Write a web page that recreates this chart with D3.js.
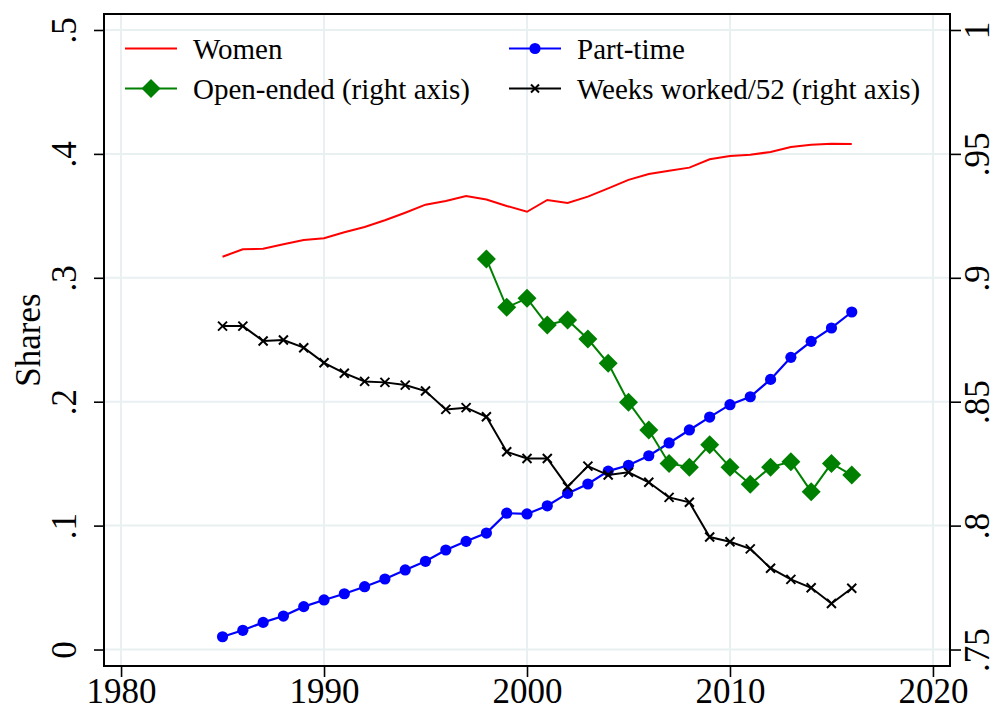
<!DOCTYPE html>
<html>
<head>
<meta charset="utf-8">
<script src="https://cdn.jsdelivr.net/npm/d3@7"></script>
<style>
  html, body { margin: 0; padding: 0; background: #fff; }
  svg { display: block; }
</style>
</head>
<body>
<div id="chart"></div>
<script>
// ---- Data ----
const years = d3.range(1985, 2017);
const women = [0.317, 0.323, 0.3235, 0.327, 0.3305, 0.332, 0.3367, 0.341, 0.3464, 0.3525, 0.359, 0.362, 0.366, 0.3632,
  0.358, 0.3533, 0.3628, 0.3604, 0.3655, 0.3722, 0.379, 0.3838, 0.3864, 0.3889, 0.3956, 0.3983, 0.3994, 0.4015, 0.4056, 0.4074, 0.4082, 0.408];
const partTime = [0.0103, 0.0155, 0.0219, 0.027, 0.0346, 0.040, 0.045, 0.0507, 0.0569, 0.0642, 0.0712, 0.0803, 0.0873, 0.094,
  0.110, 0.1094, 0.116, 0.126, 0.1336, 0.144, 0.1487, 0.1564, 0.1667, 0.1772, 0.1876, 0.1976, 0.204, 0.218, 0.2358, 0.2487, 0.2595, 0.2724];
const openYears = d3.range(1998, 2017);
const openEnded = [0.9076, 0.8881, 0.8917, 0.8810, 0.8830, 0.8753, 0.8655, 0.8498, 0.8386, 0.8251, 0.8236, 0.8326, 0.8236,
  0.8167, 0.8236, 0.8258, 0.8137, 0.8251, 0.8204];
const weeksWorked = [0.8805, 0.8805, 0.8745, 0.8749, 0.8718, 0.8657, 0.8615, 0.8582, 0.8578, 0.8567, 0.8543, 0.8469, 0.8476, 0.8439,
  0.8298, 0.8271, 0.8271, 0.8157, 0.8240, 0.8204, 0.8215, 0.8175, 0.8114, 0.8094, 0.7954, 0.7935, 0.7906, 0.7828, 0.7783, 0.7749, 0.7686, 0.7747];
const xTicks = [1980, 1990, 2000, 2010, 2020];
const yLeftTicks = [0, 0.1, 0.2, 0.3, 0.4, 0.5];
const yLeftLabels = ["0", ".1", ".2", ".3", ".4", ".5"];
const yRightTicks = [0.75, 0.8, 0.85, 0.9, 0.95, 1];
const yRightLabels = [".75", ".8", ".85", ".9", ".95", "1"];
const yTitle = "Shares";
const legendItems = [
  {label: "Women", color: "#ff0000", marker: "none", col: 0, row: 0},
  {label: "Part-time", color: "#0000ff", marker: "circle", col: 1, row: 0},
  {label: "Open-ended (right axis)", color: "#008000", marker: "diamond", col: 0, row: 1},
  {label: "Weeks worked/52 (right axis)", color: "#000000", marker: "x", col: 1, row: 1}
];

// ---- Font detection (prefer an installed Times-like serif) ----
function pickFont() {
  const cands = ["Liberation Serif", "Times New Roman", "Tinos", "Nimbus Roman", "FreeSerif", "Noto Serif", "DejaVu Serif"];
  const c = document.createElement("canvas").getContext("2d");
  const s = "Weeks worked/52 (right axis) 1980 .95";
  const base = {};
  ["monospace", "sans-serif"].forEach(b => { c.font = `40px ${b}`; base[b] = c.measureText(s).width; });
  for (const f of cands) {
    let ok = false;
    for (const b of ["monospace", "sans-serif"]) {
      c.font = `40px "${f}", ${b}`;
      if (Math.abs(c.measureText(s).width - base[b]) > 0.5) ok = true;
    }
    if (ok) return {family: `"${f}", serif`, serif: true};
  }
  return {family: `"Liberation Sans", Arial, sans-serif`, serif: false};
}
const F = pickFont();
const FONT = F.family;
const fsTick = F.serif ? 35 : 33;
const fsLegend = F.serif ? 29 : 28;
const fsTitle = F.serif ? 35 : 32;

// ---- Layout ----
const W = 997, H = 711;
const L = 104, R = 950, T = 14, B = 666;

const svg = d3.select("#chart").append("svg").attr("width", W).attr("height", H)
  .style("font-family", FONT);

const x = d3.scaleLinear().domain([1979.16, 2020.84]).range([L, R]);
const yL = d3.scaleLinear().domain([-0.0133, 0.5129]).range([B, T]);
const yR = d3.scaleLinear().domain([0.75 - 0.00665, 0.75 + 0.5129 / 2]).range([B, T]);

// grid
const gridColor = "#e8f0f2";
svg.append("g").selectAll("line.h").data(yLeftTicks).join("line")
  .attr("x1", L).attr("x2", R).attr("y1", d => yL(d)).attr("y2", d => yL(d))
  .attr("stroke", gridColor).attr("stroke-width", 2);
svg.append("g").selectAll("line.v").data(xTicks).join("line")
  .attr("y1", T).attr("y2", B).attr("x1", d => x(d)).attr("x2", d => x(d))
  .attr("stroke", gridColor).attr("stroke-width", 2);

// axes
const axL = d3.axisLeft(yL).tickValues(yLeftTicks).tickSize(10).tickFormat((d, i) => yLeftLabels[i]);
const gL = svg.append("g").attr("transform", `translate(${L},0)`).call(axL);
const axR = d3.axisRight(yR).tickValues(yRightTicks).tickSize(11).tickFormat((d, i) => yRightLabels[i]);
const gR = svg.append("g").attr("transform", `translate(${R},0)`).call(axR);
const axB = d3.axisBottom(x).tickValues(xTicks).tickSize(11).tickFormat(d3.format("d"));
const gB = svg.append("g").attr("transform", `translate(0,${B})`).call(axB);

[gL, gR, gB].forEach(g => {
  g.attr("font-family", FONT).attr("font-size", fsTick);
  g.select(".domain").remove();
  g.selectAll(".tick line").attr("stroke", "#000").attr("stroke-width", 1.6);
  g.selectAll(".tick text").attr("fill", "#000");
});
const desc = Math.ceil(fsTick * 0.22);
gL.selectAll(".tick text").attr("x", null).attr("dy", null)
  .attr("text-anchor", "middle").attr("transform", "translate(-28,0) rotate(-90)");
gR.selectAll(".tick text").attr("x", null).attr("dy", null)
  .attr("text-anchor", "middle").attr("transform", `translate(${W - R - desc},0) rotate(-90)`);
gB.selectAll(".tick text").attr("y", null).attr("dy", null)
  .attr("text-anchor", "middle").attr("transform", `translate(0,${H - B - desc})`);

// frame
svg.append("rect").attr("x", L).attr("y", T).attr("width", R - L).attr("height", B - T)
  .attr("fill", "none").attr("stroke", "#000").attr("stroke-width", 2);

// y title
svg.append("text").attr("transform", `translate(40,${(T + B) / 2}) rotate(-90)`)
  .attr("text-anchor", "middle").attr("font-size", fsTitle).attr("fill", "#000").text(yTitle);

// lines
const lineL = d3.line().x(d => x(d[0])).y(d => yL(d[1]));
const lineR = d3.line().x(d => x(d[0])).y(d => yR(d[1]));

const womenData = years.map((yy, i) => [yy, women[i]]);
const ptData = years.map((yy, i) => [yy, partTime[i]]);
const oeData = openYears.map((yy, i) => [yy, openEnded[i]]);
const wwData = years.map((yy, i) => [yy, weeksWorked[i]]);

svg.append("path").datum(womenData).attr("d", lineL).attr("fill", "none").attr("stroke", "#ff0000").attr("stroke-width", 2);

svg.append("path").datum(ptData).attr("d", lineL).attr("fill", "none").attr("stroke", "#0000ff").attr("stroke-width", 2.2);
svg.append("g").selectAll("circle").data(ptData).join("circle")
  .attr("cx", d => x(d[0])).attr("cy", d => yL(d[1])).attr("r", 5.6).attr("fill", "#0000ff");

svg.append("path").datum(wwData).attr("d", lineR).attr("fill", "none").attr("stroke", "#000").attr("stroke-width", 2);
const xMark = s => `M${-s},${-s}L${s},${s}M${-s},${s}L${s},${-s}`;
svg.append("g").selectAll("path").data(wwData).join("path")
  .attr("transform", d => `translate(${x(d[0])},${yR(d[1])})`)
  .attr("d", xMark(4.5)).attr("stroke", "#000").attr("stroke-width", 2).attr("fill", "none");

svg.append("path").datum(oeData).attr("d", lineR).attr("fill", "none").attr("stroke", "#008000").attr("stroke-width", 2);
const diamond = s => `M0,${-s}L${s},0L0,${s}L${-s},0Z`;
svg.append("g").selectAll("path").data(oeData).join("path")
  .attr("transform", d => `translate(${x(d[0])},${yR(d[1])})`)
  .attr("d", diamond(9.5)).attr("fill", "#008000");

// legend
const colX = [125, 509];
const rowY = [48.5, 88.5];
const lg = svg.append("g");
legendItems.forEach(it => {
  const x0 = colX[it.col], yy = rowY[it.row];
  lg.append("line").attr("x1", x0).attr("x2", x0 + 52).attr("y1", yy).attr("y2", yy)
    .attr("stroke", it.color).attr("stroke-width", 2);
  const cx = x0 + 26;
  if (it.marker === "circle") lg.append("circle").attr("cx", cx).attr("cy", yy).attr("r", 5.6).attr("fill", it.color);
  if (it.marker === "diamond") lg.append("path").attr("transform", `translate(${cx},${yy})`).attr("d", diamond(9.5)).attr("fill", it.color);
  if (it.marker === "x") lg.append("path").attr("transform", `translate(${cx},${yy})`).attr("d", xMark(4)).attr("stroke", it.color).attr("stroke-width", 2);
  lg.append("text").attr("x", x0 + 68).attr("y", yy + 10).attr("font-size", fsLegend).attr("fill", "#000").text(it.label);
});
</script>
</body>
</html>
